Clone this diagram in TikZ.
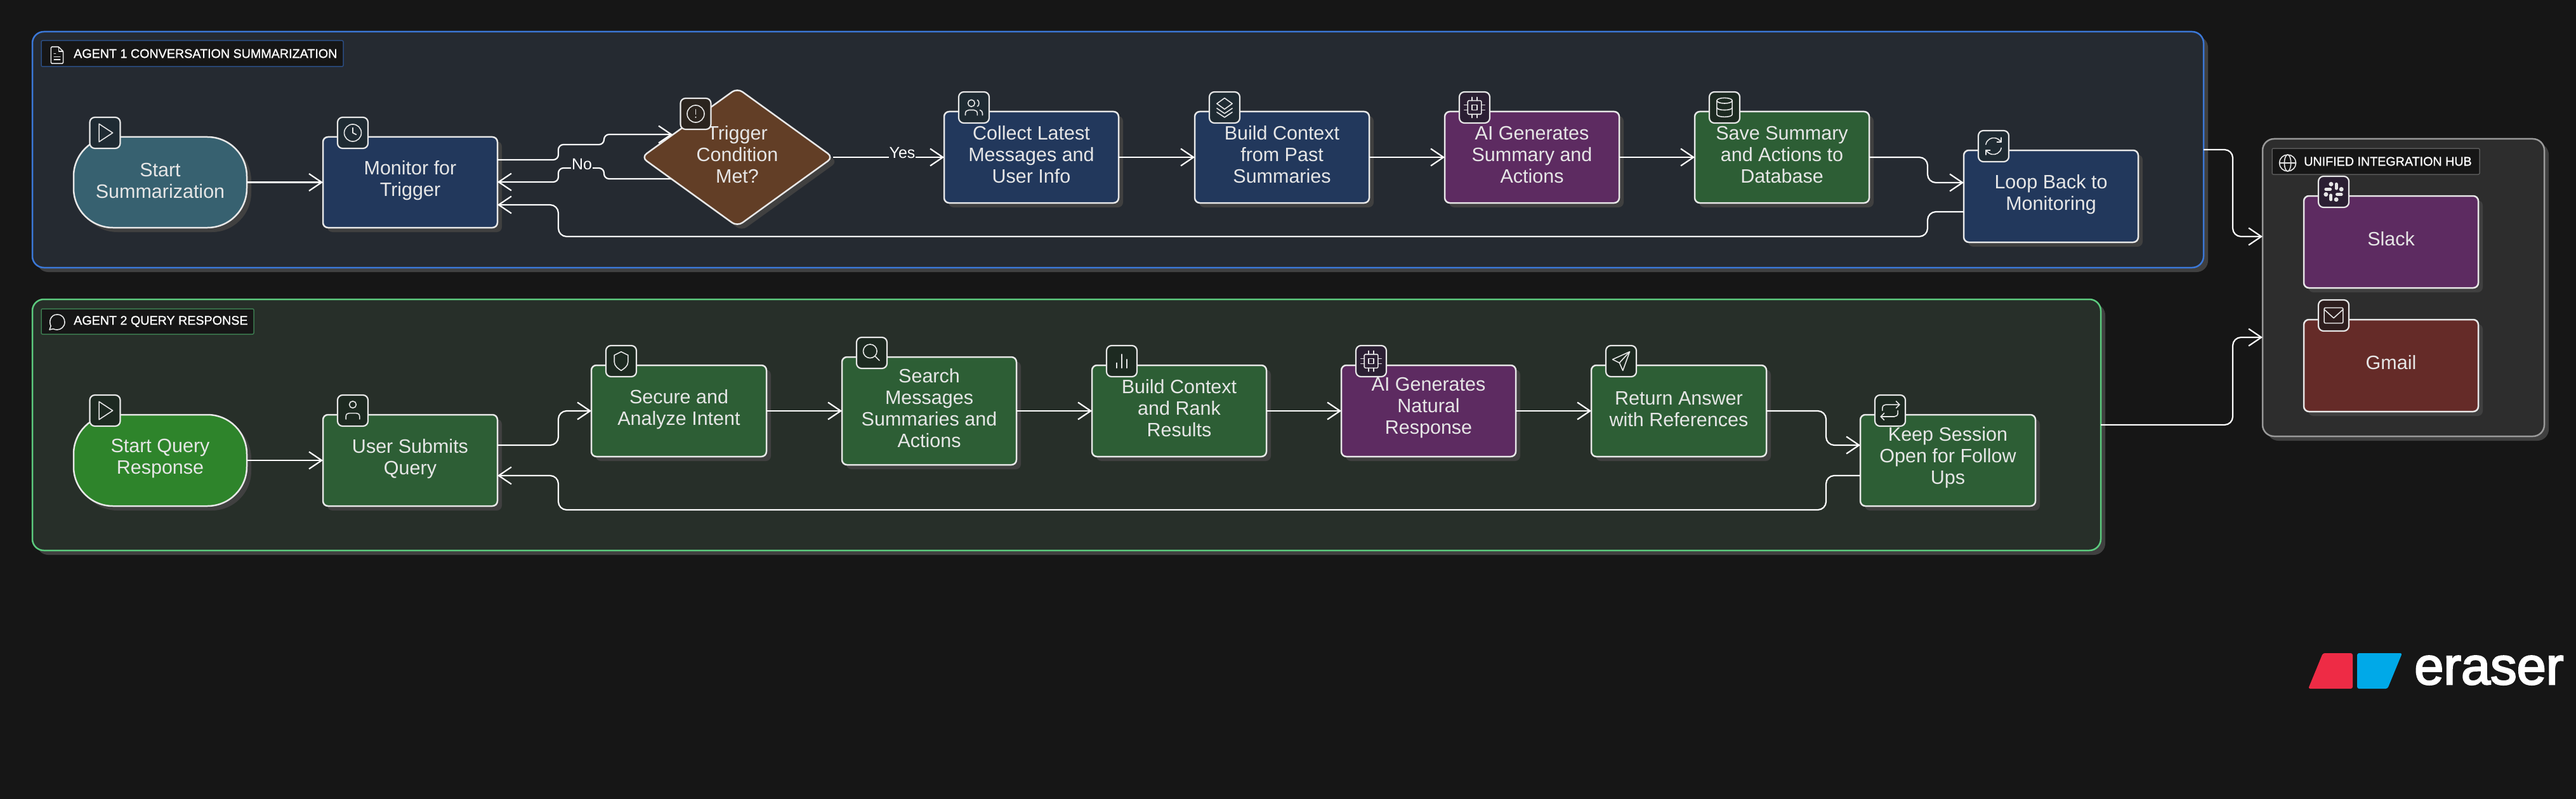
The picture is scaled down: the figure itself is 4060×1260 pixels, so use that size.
\documentclass[tikz,border=0pt]{standalone}
\usepackage{fontspec}
\setmainfont{Liberation Sans}
\newfontfamily\labfont[FakeBold=1]{Liberation Sans}
\newfontfamily\logofont[FakeBold=3]{Liberation Sans}
\usetikzlibrary{arrows.meta,shapes.geometric,shadows,calc}
\definecolor{bgc}{HTML}{161616}
\definecolor{shc}{HTML}{404040}
\definecolor{txtc}{HTML}{E6E6E6}
\definecolor{edgec}{HTML}{E8E8E8}
\definecolor{gonef}{HTML}{252A31}
\definecolor{goned}{HTML}{3B78D8}
\definecolor{gtwof}{HTML}{272F29}
\definecolor{gtwod}{HTML}{5CCB7E}
\definecolor{hubf}{HTML}{2D2D2D}
\definecolor{hubd}{HTML}{9A9A9A}
\definecolor{ftea}{HTML}{376170}
\definecolor{fblu}{HTML}{22385C}
\definecolor{fpur}{HTML}{5D2B61}
\definecolor{fgrn}{HTML}{2D5E35}
\definecolor{fgrs}{HTML}{2E842B}
\definecolor{fbrn}{HTML}{623E26}
\definecolor{fred}{HTML}{652B28}
\definecolor{ibl}{HTML}{1F2B33}
\definecolor{ipu}{HTML}{2B1F33}
\definecolor{igr}{HTML}{1D2A21}
\definecolor{ibr}{HTML}{2B241E}
\definecolor{ire}{HTML}{2E1E1E}
\definecolor{logor}{HTML}{EE2B45}
\definecolor{logob}{HTML}{00A9E8}
\tikzset{
  shd/.style={general shadow={fill=shc,shadow xshift=7pt,shadow yshift=-7pt}},
  nd/.style={shd,draw=edgec,line width=2.5pt,rounded corners=8pt,inner sep=0pt,outer sep=0pt},
  pill/.style={nd,rounded corners=62pt},
  ndtxt/.style={inner sep=0pt,align=center,text=txtc,font=\fontsize{30.5}{34}\selectfont},
  grp/.style={shd,line width=2.5pt,rounded corners=18pt,inner sep=0pt,outer sep=0pt},
  lab/.style={fill=bgc,line width=1.5pt,rounded corners=2pt,inner sep=0pt,outer sep=0pt},
  labtxt/.style={anchor=west,inner sep=0pt,text=white,font=\labfont\fontsize{19.7}{22}\selectfont},
  iconbox/.style={draw=edgec,line width=2.2pt,rounded corners=8pt,minimum width=48pt,minimum height=49pt,inner sep=0pt,outer sep=0pt},
  il/.style={draw=txtc,line width=1.6pt,line cap=round,line join=round},
  conn/.style={draw=white,line width=2.2pt,rounded corners=13pt,-{Straight Barb[length=20pt,width=27pt,line width=2.2pt]}},
  edgetxt/.style={inner sep=1pt,text=white,font=\fontsize{25}{28}\selectfont},
  ic-play/.pic={\draw[il] (-7,-10.5)--(9,0)--(-7,10.5)--cycle;},
  ic-clock/.pic={\draw[il] (0,0) circle (10); \draw[il] (0,-6)--(0,0)--(4,2);},
  ic-alert/.pic={\draw[il] (0,0) circle (10); \draw[il] (0,-5)--(0,0.5); \fill[txtc] (0,4) circle (0.9);},
  ic-users/.pic={\draw[il] (-3,-5) circle (4);
    \draw[il] (-10,9)--(-10,7) .. controls (-10,4.5) and (-8,3) .. (-6,3)--(0,3) .. controls (2,3) and (4,4.5) .. (4,7)--(4,9);
    \draw[il] (4,-8.8) .. controls (6.5,-8) and (6.5,-2) .. (4,-1.2);
    \draw[il] (10,9)--(10,7) .. controls (10,5) and (9,3.5) .. (7,3);},
  ic-layers/.pic={\draw[il] (0,-11)--(9,-4.5)--(0,2)--(-9,-4.5)--cycle;
    \draw[il] (-9,1)--(0,7)--(9,1); \draw[il] (-9,5.5)--(0,11.5)--(9,5.5);},
  ic-cpu/.pic={\draw[il,rounded corners=1.5pt] (-8,-8) rectangle (8,8); \draw[il] (-3,-3) rectangle (3,3);
    \foreach \q in {-3,3}{\draw[il] (\q,-12)--(\q,-8); \draw[il] (\q,8)--(\q,12); \draw[il] (-12,\q)--(-8,\q); \draw[il] (8,\q)--(12,\q);}},
  ic-db/.pic={\draw[il] (0,-8) ellipse (9 and 3.2);
    \draw[il] (-9,-8)--(-9,8) .. controls (-9,12) and (9,12) .. (9,8)--(9,-8);
    \draw[il] (-9,0) .. controls (-9,4) and (9,4) .. (9,0);},
  ic-refresh/.pic={\draw[il] (-9,-2) .. controls (-8,-8) and (-2,-10.5) .. (2,-9.5) .. controls (5,-9) and (7,-7) .. (9,-5);
    \draw[il] (9,-10)--(9,-5)--(4,-5);
    \draw[il] (9,2) .. controls (8,8) and (2,10.5) .. (-2,9.5) .. controls (-5,9) and (-7,7) .. (-9,5);
    \draw[il] (-9,10)--(-9,5)--(-4,5);},
  ic-shield/.pic={\draw[il] (0,-11)--(8,-7)--(8,1) .. controls (8,6) and (3,9) .. (0,11) .. controls (-3,9) and (-8,6) .. (-8,1)--(-8,-7)--cycle;},
  ic-search/.pic={\draw[il] (-2,-2) circle (8); \draw[il] (9,9)--(4,4);},
  ic-chart/.pic={\draw[il] (-6,8)--(-6,2); \draw[il] (0,8)--(0,-8); \draw[il] (6,8)--(6,-2);},
  ic-send/.pic={\draw[il] (10,-11)--(-10,-2)--(-2,2)--(2,11)--cycle; \draw[il] (10,-11)--(-2,2);},
  ic-repeat/.pic={\draw[il] (7,-11)--(11,-7)--(7,-3);
    \draw[il] (-9,0)--(-9,-3) .. controls (-9,-5.5) and (-7,-7) .. (-5,-7)--(11,-7);
    \draw[il] (-7,11)--(-11,7)--(-7,3);
    \draw[il] (9,0)--(9,3) .. controls (9,5.5) and (7,7) .. (5,7)--(-11,7);},
  ic-file/.pic={\draw[il,rounded corners=1.5pt] (2,-11)--(-8,-11)--(-8,11)--(8,11)--(8,-5)--cycle;
    \draw[il] (2,-11)--(2,-5)--(8,-5); \draw[il] (-4,2)--(4,2); \draw[il] (-4,6)--(4,6); \draw[il] (-4,-2)--(-2,-2);},
  ic-msg/.pic={\draw[il] (-10,10)--(-8.2,5) .. controls (-11,0) and (-9,-10) .. (0,-10) .. controls (7,-10) and (10,-5) .. (10,0) .. controls (10,6) and (5,10) .. (0,10) .. controls (-2,10) and (-4,9.5) .. (-5,8.8)--cycle;},
  ic-globe/.pic={\draw[il] (0,0) circle (10); \draw[il] (0,0) ellipse (4 and 10); \draw[il] (-10,0)--(10,0);},
  ic-slack/.pic={\begin{scope}[draw=txtc,fill=txtc,line cap=round,line width=5pt]
    \draw (-9,-3)--(-4,-3); \draw (3,-9)--(3,-4); \draw (4,3)--(9,3); \draw (-3,4)--(-3,9);
    \fill (-3,-9) circle (2.6); \fill (9,-3) circle (2.6); \fill (3,9) circle (2.6); \fill (-9,3) circle (2.6);
    \end{scope}},
  ic-mail/.pic={\draw[il,rounded corners=2pt] (-11,-9) rectangle (11,9); \draw[il] (-11,-7)--(0,3)--(11,-7);},
  ic-user/.pic={\draw[il] (0,-7) circle (4); \draw[il] (-8,10)--(-8,7) .. controls (-8,4) and (-6,3) .. (-4,3)--(4,3) .. controls (6,3) and (8,4) .. (8,7)--(8,10);},
}
\newcommand\bxshape[6]{%
  \pgfmathsetmacro\bxW{#5-(#3)}\pgfmathsetmacro\bxH{#6-(#4)}%
  \pgfmathsetmacro\bxX{(#3+#5)/2}\pgfmathsetmacro\bxY{(#4+#6)/2}%
  \node[#1,minimum width=\bxW pt,minimum height=\bxH pt,at={(\bxX,\bxY)}] (#2) {};}
\newcommand\bx[8][4.5pt]{%
  \bxshape{#2}{#3}{#4}{#5}{#6}{#7}%
  \node[ndtxt] (#3-text) at ([yshift=#1]#3.center) {#8};}
\newcommand\icn[4]{%
  \node[iconbox,fill=#3] (#1) at (#2) {};
  \pic[scale=1.35] at (#1) {#4};}
\newcommand\ictop[5][47pt]{\icn{#2}{[shift={(#1,6.5pt)}]#3.north west}{#4}{#5}}
\begin{document}
\begin{tikzpicture}[x=1pt,y=-1pt]
\useasboundingbox (0,0) rectangle (4060,1260);
\fill[bgc] (0,0) rectangle (4060,1260);
% groups
\bxshape{grp,fill=gonef,draw=goned}{gone}{51}{50}{3473}{422}
\bxshape{grp,fill=gtwof,draw=gtwod}{gtwo}{51}{472}{3311}{868}
\bxshape{grp,fill=hubf,draw=hubd}{hub}{3566}{219}{4010}{688}
% group labels
\bxshape{lab,draw=goned!55!bgc}{lone}{65}{64}{541}{105}
\bxshape{lab,draw=gtwod!55!bgc}{ltwo}{65}{487}{400}{527}
\bxshape{lab,draw=hubd!50!bgc}{lhub}{3581}{234}{3908}{275}
\node[labtxt] (tone) at (116,84.5) {AGENT 1 CONVERSATION SUMMARIZATION};
\node[labtxt] (ttwo) at (116,507) {AGENT 2 QUERY RESPONSE};
\node[labtxt] (thub) at (3631,254.5) {UNIFIED INTEGRATION HUB};
\pic[scale=1.2] at (90,87) {ic-file};
\pic[scale=1.2] at (90,508) {ic-msg};
\pic[scale=1.3] at (3605.5,257) {ic-globe};
% agent 1 nodes
\bx[3pt]{pill,fill=ftea}{sone}{116}{216}{389}{359}{Start\\Summarization}
\bx[3pt]{nd,fill=fblu}{mon}{509}{216}{784}{359}{Monitor for\\Trigger}
\node[shd,diamond,aspect=1.384,draw=edgec,line width=2.5pt,rounded corners=10pt,fill=fbrn,inner sep=0pt,outer sep=0pt,
  minimum width=302pt,minimum height=218pt] (dia) at (1162,248) {};
\node[ndtxt] (dia-text) at ([yshift=4.5pt]dia.center) {Trigger\\Condition\\Met?};
\bx{nd,fill=fblu}{col}{1488}{176}{1763}{320}{Collect Latest\\Messages and\\User Info}
\bx{nd,fill=fblu}{bld}{1883}{176}{2158}{320}{Build Context\\from Past\\Summaries}
\bx{nd,fill=fpur}{aig}{2277}{176}{2552}{320}{AI Generates\\Summary and\\Actions}
\bx{nd,fill=fgrn}{sav}{2671}{176}{2946}{320}{Save Summary\\and Actions to\\Database}
\bx[2.5pt]{nd,fill=fblu}{lop}{3095}{237}{3370}{382}{Loop Back to\\Monitoring}
% agent 2 nodes
\bx[2.5pt]{pill,fill=fgrs}{stwo}{116}{654}{389}{798}{Start Query\\Response}
\bx[2.5pt]{nd,fill=fgrn}{usr}{509}{654}{784}{798}{User Submits\\Query}
\bx[2.5pt]{nd,fill=fgrn}{sec}{932}{576}{1208}{720}{Secure and\\Analyze Intent}
\bx{nd,fill=fgrn}{sea}{1327}{563}{1602}{733}{Search\\Messages\\Summaries and\\Actions}
\bx{nd,fill=fgrn}{rnk}{1721}{576}{1996}{720}{Build Context\\and Rank\\Results}
\bx{nd,fill=fpur}{ain}{2114}{576}{2389}{720}{AI Generates\\Natural\\Response}
\bx[2.5pt]{nd,fill=fgrn}{ret}{2508}{576}{2784}{720}{Return Answer\\with References}
\bx{nd,fill=fgrn}{kep}{2932}{654}{3208}{798}{Keep Session\\Open for Follow\\Ups}
% hub nodes
\bx{nd,fill=fpur}{slk}{3631}{309}{3906}{454}{Slack}
\bx{nd,fill=fred}{gml}{3631}{504}{3906}{649}{Gmail}
% connectors agent 1
\draw[conn] (sone.east) -- (mon.west);
\draw[conn,rounded corners=8pt] (mon.east |- 0,252) -- (880,252) -- (880,228) -- (952,228) -- (952,212) -- (1060,212);
\draw[conn,rounded corners=8pt] (1058,282) -- (952,282) -- (952,265) -- (880,265) -- (880,287) -- (mon.east |- 0,287);
\draw[conn] (lop.west |- 0,334) -- (3038,334) -- (3038,373) -- (880,373) -- (880,323) -- (mon.east |- 0,323);
\draw[conn] (dia.east) -- (col.west);
\draw[conn] (col.east) -- (bld.west);
\draw[conn] (bld.east) -- (aig.west);
\draw[conn] (aig.east) -- (sav.west);
\draw[conn] (sav.east) -- (3038,248) -- (3038,288) -- (lop.west |- 0,288);
% connectors agent 2
\draw[conn] (stwo.east) -- (usr.west);
\draw[conn] (usr.east |- 0,702) -- (880,702) -- (880,648) -- (sec.west);
\draw[conn] (sec.east) -- (sea.west);
\draw[conn] (sea.east) -- (rnk.west);
\draw[conn] (rnk.east) -- (ain.west);
\draw[conn] (ain.east) -- (ret.west);
\draw[conn] (ret.east) -- (2878,648) -- (2878,702) -- (kep.west |- 0,702);
\draw[conn] (kep.west |- 0,750) -- (2878,750) -- (2878,804) -- (880,804) -- (880,750) -- (usr.east |- 0,750);
% connectors to hub
\draw[conn] (gone.east |- 0,236) -- (3519,236) -- (3519,373) -- (hub.west |- 0,373);
\draw[conn] (gtwo.east |- 0,670) -- (3519,670) -- (3519,532) -- (hub.west |- 0,532);
% edge labels
\node[edgetxt,fill=gonef] (yes) at (1422,241) {Yes};
\node[edgetxt,fill=gonef] (no) at (917,259) {No};
% icons
\ictop[49.5pt]{isone}{sone}{ibl}{ic-play}
\ictop{imon}{mon}{ibl}{ic-clock}
\icn{idia}{[shift={(-65.5pt,68.5pt)}]dia.center}{ibr}{ic-alert}
\ictop{icol}{col}{ibl}{ic-users}
\ictop{ibld}{bld}{ibl}{ic-layers}
\ictop{iaig}{aig}{ipu}{ic-cpu}
\ictop{isav}{sav}{igr}{ic-db}
\ictop{ilop}{lop}{ibl}{ic-refresh}
\ictop[49.5pt]{istwo}{stwo}{igr}{ic-play}
\ictop{iusr}{usr}{igr}{ic-user}
\ictop{isec}{sec}{igr}{ic-shield}
\ictop{isea}{sea}{igr}{ic-search}
\ictop{irnk}{rnk}{igr}{ic-chart}
\ictop{iain}{ain}{ipu}{ic-cpu}
\ictop{iret}{ret}{igr}{ic-send}
\ictop{ikep}{kep}{igr}{ic-repeat}
\ictop{islk}{slk}{ipu}{ic-slack}
\ictop{igml}{gml}{ire}{ic-mail}
% logo
\fill[logor,rounded corners=3pt] (3661,1030) -- (3708,1030) -- (3708,1086) -- (3638,1086) -- cycle;
\fill[logob,rounded corners=3pt] (3715,1030) -- (3786,1030) -- (3763,1086) -- (3715,1086) -- cycle;
\node[anchor=base west,inner sep=0pt,text=white,font=\logofont\fontsize{83}{85}\selectfont] (logo) at (3805,1079) {eraser};
\end{tikzpicture}
\end{document}
